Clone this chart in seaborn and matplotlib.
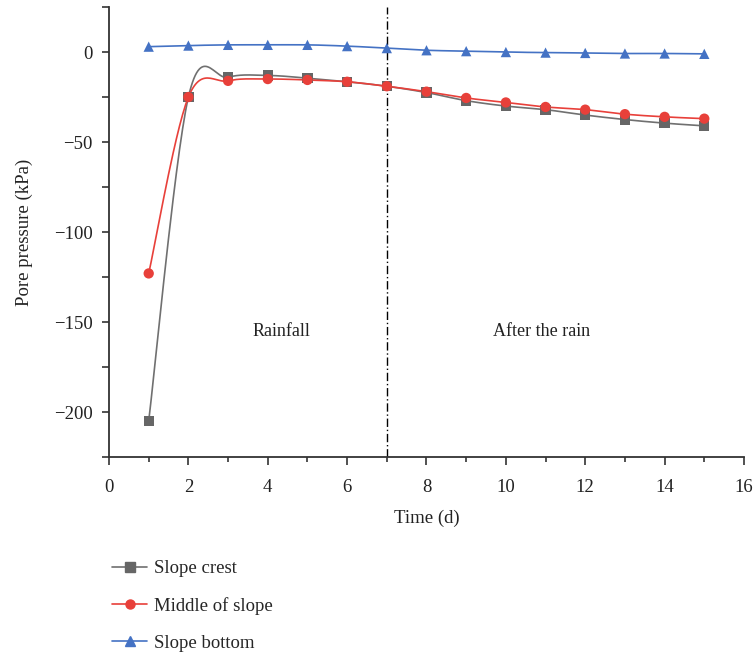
import numpy as np
import pandas as pd
import matplotlib
matplotlib.use("Agg")
import matplotlib.pyplot as plt
from matplotlib.lines import Line2D
from matplotlib.ticker import MultipleLocator
import seaborn as sns

days = [1, 2, 3, 4, 5, 6, 7, 8, 9, 10, 11, 12, 13, 14, 15]
slope_crest = [-205, -25, -14, -13, -14.5, -16.5, -19, -22.5, -27, -30, -32, -35, -37.5, -39.5, -41]
middle_of_slope = [-123, -25, -16, -15, -15.5, -16.5, -19, -22, -25.5, -28, -30.5, -32, -34.5, -36, -37]
slope_bottom = [3, 3.6, 4, 4, 4, 3.3, 2.2, 1, 0.5, 0, -0.3, -0.5, -0.8, -0.8, -1]
series_names = ["Slope crest", "Middle of slope", "Slope bottom"]
colors = ["#666666", "#e8403a", "#4472c4"]
line_colors = ["#707070", "#e8403a", "#4472c4"]
markers = ["s", "o", "^"]

sns.set_style("ticks")
plt.rcParams['font.family'] = ['Liberation Serif', 'DejaVu Serif']
plt.rcParams['axes.unicode_minus'] = True


def smooth(x, y, n=30):
    # Excel-style smoothed line (Catmull-Rom as cubic Bezier) for rendering
    x = np.asarray(x, float); y = np.asarray(y, float)
    px = np.concatenate([[x[0]], x, [x[-1]]])
    py = np.concatenate([[y[0]], y, [y[-1]]])
    xs, ys = [], []
    t = np.linspace(0, 1, n)
    for i in range(1, len(px) - 2):
        p0 = np.array([px[i], py[i]]); p3 = np.array([px[i + 1], py[i + 1]])
        c1 = p0 + (np.array([px[i + 1], py[i + 1]]) - np.array([px[i - 1], py[i - 1]])) / 6
        c2 = p3 - (np.array([px[i + 2], py[i + 2]]) - np.array([px[i], py[i]])) / 6
        b = ((1 - t) ** 3)[:, None] * p0 + (3 * (1 - t) ** 2 * t)[:, None] * c1 + \
            (3 * (1 - t) * t ** 2)[:, None] * c2 + (t ** 3)[:, None] * p3
        xs.extend(b[:, 0]); ys.extend(b[:, 1])
    return np.array(xs), np.array(ys)


fig = plt.figure(figsize=(7.55, 6.54), dpi=100)
ax = fig.add_axes([0.1444, 0.3012, 0.841, 0.688])

all_series = [slope_crest, middle_of_slope, slope_bottom]
frames = []
for name, vals in zip(series_names, all_series):
    frames.append(pd.DataFrame({"Time": days, "Pressure": vals, "Series": name}))
df = pd.concat(frames, ignore_index=True)

for name, vals, lc in zip(series_names, all_series, line_colors):
    sx, sy = smooth(days, vals)
    ax.plot(sx, sy, color=lc, lw=1.2, zorder=2)

sns.scatterplot(data=df, x="Time", y="Pressure", hue="Series", style="Series",
                palette=dict(zip(series_names, colors)),
                markers=dict(zip(series_names, markers)),
                s=55, edgecolor="none", linewidth=0, ax=ax, legend=False, zorder=3)

ax.axvline(7, color="black", lw=1.0, ls=(0, (6, 2, 1, 2)), zorder=1)

ax.text(4.35, -155, "Rainfall", fontsize=13, ha="center", va="center", color="#222222")
ax.text(10.9, -155, "After the rain", fontsize=13, ha="center", va="center", color="#222222")

ax.set_xlim(0, 16)
ax.set_ylim(-225, 25)
ax.xaxis.set_major_locator(MultipleLocator(2))
ax.xaxis.set_minor_locator(MultipleLocator(1))
ax.set_yticks([0, -50, -100, -150, -200])
ax.yaxis.set_minor_locator(MultipleLocator(25))
ax.tick_params(axis="x", which="major", length=6, width=1.2, labelsize=13.5,
               pad=10, colors="#333333", labelcolor="#222222")
ax.tick_params(axis="x", which="minor", length=3.5, width=1.2, colors="#333333")
ax.tick_params(axis="y", which="major", length=5, width=1.2, labelsize=13.5,
               pad=7, colors="#333333", labelcolor="#222222")
ax.tick_params(axis="y", which="minor", length=5, width=1.2, colors="#333333")
ax.set_xlabel("Time (d)", fontsize=13.5, color="#222222", labelpad=10)
ax.set_ylabel("Pore pressure (kPa)", fontsize=13.5, color="#222222", labelpad=15)
for sp in ["top", "right"]:
    ax.spines[sp].set_visible(False)
for sp in ["left", "bottom"]:
    ax.spines[sp].set_color("#333333")
    ax.spines[sp].set_linewidth(1.3)

handles = [Line2D([0], [0], color=lc, lw=1.2, marker=m, markerfacecolor=c,
                  markeredgecolor=c, markersize=6.5)
           for lc, c, m in zip(line_colors, colors, markers)]
fig.legend(handles, series_names, loc="upper left", bbox_to_anchor=(0.138, 0.155),
           frameon=False, fontsize=13.5, handlelength=1.9, handletextpad=0.35,
           labelspacing=1.05, borderaxespad=0)

fig.savefig("out.png", dpi=100)
